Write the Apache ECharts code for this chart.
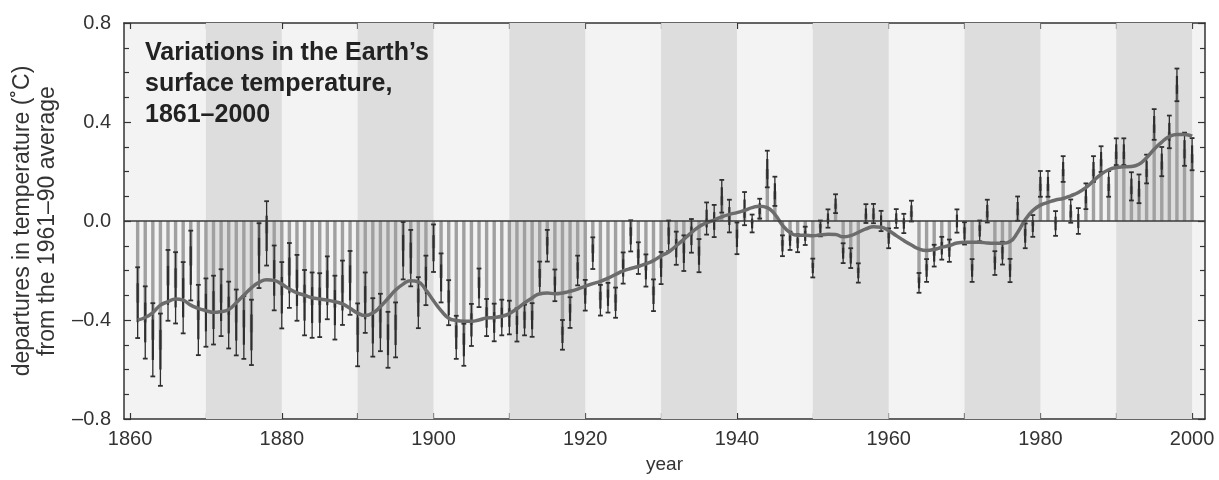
<!DOCTYPE html>
<html>
<head>
<meta charset="utf-8">
<title>Variations in the Earth's surface temperature, 1861–2000</title>
<script src="https://cdn.jsdelivr.net/npm/echarts@6.0.0/dist/echarts.min.js"></script>
<style>
html,body{margin:0;padding:0;background:#fff;}
#chart{width:1219px;height:480px;}
</style>
</head>
<body>
<div id="chart"></div>
<script>
var firstYear = 1861;

// yearly departures (°C) from the 1961-90 average, 1861..2000
var anomaly = [
    -0.33,-0.41,-0.48,-0.52,-0.26,-0.27,-0.31,-0.18,-0.40,-0.37,
    -0.36,-0.33,-0.38,-0.41,-0.43,-0.45,-0.14,-0.05,-0.23,-0.30,
    -0.22,-0.27,-0.33,-0.34,-0.34,-0.27,-0.35,-0.29,-0.25,-0.46,
    -0.33,-0.43,-0.41,-0.48,-0.44,-0.12,-0.15,-0.33,-0.24,-0.11,
    -0.23,-0.33,-0.47,-0.50,-0.42,-0.27,-0.39,-0.41,-0.39,-0.39,
    -0.42,-0.40,-0.40,-0.23,-0.10,-0.26,-0.46,-0.37,-0.20,-0.30,
    -0.13,-0.32,-0.31,-0.33,-0.19,-0.06,-0.15,-0.20,-0.30,-0.19,
    -0.06,-0.11,-0.13,-0.06,-0.14,0.01,0.00,0.10,0.02,-0.07,
    0.05,-0.01,0.05,0.21,0.12,-0.10,-0.08,-0.09,-0.06,-0.19,
    -0.03,0.01,0.07,-0.13,-0.15,-0.21,0.03,0.03,0.00,-0.07,
    0.01,-0.01,0.04,-0.25,-0.20,-0.14,-0.11,-0.12,0.00,-0.05,
    -0.20,-0.04,0.04,-0.17,-0.13,-0.20,0.05,-0.06,-0.02,0.15,
    0.15,-0.01,0.21,0.04,0.00,0.10,0.21,0.25,0.15,0.28,
    0.28,0.14,0.13,0.21,0.39,0.24,0.36,0.55,0.29,0.27
];

// half width of the error bars
var uncertainty = [
    0.143,0.146,0.148,0.146,0.143,0.144,0.144,0.141,0.142,0.138,
    0.139,0.135,0.135,0.133,0.127,0.132,0.131,0.130,0.131,0.134,
    0.131,0.133,0.132,0.132,0.129,0.127,0.129,0.130,0.129,0.127,
    0.122,0.118,0.116,0.113,0.111,0.116,0.114,0.103,0.100,0.096,
    0.099,0.091,0.087,0.085,0.085,0.078,0.075,0.076,0.072,0.068,
    0.067,0.062,0.068,0.066,0.064,0.064,0.060,0.062,0.060,0.062,
    0.064,0.062,0.060,0.061,0.063,0.063,0.064,0.065,0.064,0.065,
    0.062,0.067,0.072,0.068,0.067,0.065,0.065,0.066,0.066,0.064,
    0.067,0.036,0.040,0.074,0.059,0.042,0.037,0.036,0.037,0.038,
    0.032,0.037,0.038,0.040,0.040,0.039,0.038,0.039,0.041,0.040,
    0.038,0.039,0.042,0.040,0.046,0.044,0.046,0.045,0.047,0.045,
    0.046,0.042,0.046,0.048,0.046,0.047,0.049,0.050,0.044,0.052,
    0.052,0.050,0.052,0.047,0.052,0.052,0.052,0.052,0.052,0.054,
    0.054,0.057,0.058,0.058,0.062,0.059,0.066,0.066,0.067,0.065
];

// smoothed curve
var smoothed = [
    -0.400,-0.390,-0.370,-0.340,-0.326,-0.315,-0.320,-0.340,-0.353,-0.362,
    -0.369,-0.366,-0.358,-0.330,-0.300,-0.270,-0.248,-0.237,-0.240,-0.255,
    -0.275,-0.290,-0.300,-0.310,-0.315,-0.320,-0.326,-0.335,-0.353,-0.372,
    -0.382,-0.372,-0.346,-0.313,-0.279,-0.255,-0.241,-0.246,-0.279,-0.322,
    -0.362,-0.393,-0.402,-0.405,-0.405,-0.400,-0.392,-0.390,-0.385,-0.374,
    -0.354,-0.331,-0.311,-0.294,-0.291,-0.294,-0.291,-0.284,-0.275,-0.264,
    -0.253,-0.244,-0.231,-0.216,-0.202,-0.192,-0.184,-0.173,-0.160,-0.141,
    -0.125,-0.100,-0.074,-0.047,-0.023,-0.007,0.004,0.017,0.027,0.034,
    0.043,0.054,0.060,0.054,0.027,-0.017,-0.047,-0.058,-0.058,-0.060,
    -0.056,-0.054,-0.055,-0.064,-0.059,-0.046,-0.032,-0.023,-0.025,-0.039,
    -0.059,-0.079,-0.097,-0.113,-0.119,-0.115,-0.106,-0.099,-0.089,-0.086,
    -0.086,-0.086,-0.089,-0.090,-0.090,-0.083,-0.046,0.005,0.042,0.064,
    0.075,0.085,0.091,0.102,0.115,0.135,0.162,0.189,0.207,0.216,
    0.219,0.220,0.229,0.256,0.290,0.319,0.341,0.350,0.350,0.343
];

var darkDecades = [[1870,1880],[1890,1900],[1910,1920],[1930,1940],[1950,1960],[1970,1980],[1990,2000]];
var yearTicks = [1860,1870,1880,1890,1900,1910,1920,1930,1940,1950,1960,1970,1980,1990,2000];
var yearLabels = [1860,1880,1900,1920,1940,1960,1980,2000];

var font = "'Liberation Sans', Arial, Helvetica, sans-serif";
var ink = '#333';

var barData = anomaly.map(function(v,i){ return [firstYear+i, v, uncertainty[i]]; });
var curveData = smoothed.map(function(v,i){ return [firstYear+i, v]; });
var bands = darkDecades.map(function(d){ return [{xAxis:d[0]},{xAxis:d[1]}]; });

function renderBar(params, api){
    var x = api.value(0), v = api.value(1), e = api.value(2);
    var base = api.coord([x, 0]);
    var end = api.coord([x, v]);
    var hi = api.coord([x, v+e]);
    var lo = api.coord([x, v-e]);
    var midHi = api.coord([x, v+e*0.55]);
    var midLo = api.coord([x, v-e*0.55]);
    var w = 3.4, cap = 2.4;
    return {
        type: 'group',
        children: [
            {type:'rect', shape:{x:base[0]-w/2, y:Math.min(base[1],end[1]), width:w, height:Math.abs(base[1]-end[1])},
             style:{fill:'#a0a0a0'}},
            {type:'line', shape:{x1:hi[0], y1:hi[1], x2:lo[0], y2:lo[1]}, style:{stroke:'#2e2e2e', lineWidth:1.3}},
            {type:'line', shape:{x1:midHi[0], y1:midHi[1], x2:midLo[0], y2:midLo[1]}, style:{stroke:'#2e2e2e', lineWidth:2.2}},
            {type:'line', shape:{x1:hi[0]-cap, y1:hi[1], x2:hi[0]+cap, y2:hi[1]}, style:{stroke:'#2e2e2e', lineWidth:1.8}},
            {type:'line', shape:{x1:lo[0]-cap, y1:lo[1], x2:lo[0]+cap, y2:lo[1]}, style:{stroke:'#2e2e2e', lineWidth:1.8}}
        ]
    };
}

var chart = echarts.init(document.getElementById('chart'));
var option = {
    animation: false,
    backgroundColor: '#fff',
    title: {
        text: 'Variations in the Earth\u2019s\nsurface temperature,\n1861\u20132000',
        left: 145, top: 38, padding: 0,
        textStyle: {fontFamily: font, fontSize: 25, fontWeight: 'bold', lineHeight: 31, color: '#222'}
    },
    grid: {
        left: 124, right: 14, top: 23, bottom: 61,
        outerBoundsMode: 'none', containLabel: false,
        show: true, backgroundColor: '#f3f3f3', borderWidth: 0
    },
    xAxis: [
        {
            type: 'value', position: 'bottom', min: 1859.2, max: 2001.7,
            axisLine: {onZero: false, lineStyle: {color: ink, width: 1.5}},
            axisTick: {inside: true, length: 6, customValues: yearTicks, lineStyle: {color: ink, width: 1.2}},
            axisLabel: {customValues: yearLabels, color: ink, fontSize: 20, fontFamily: font, margin: 10,
                formatter: function(v){ return String(v); }},
            splitLine: {show: false},
            name: 'year', nameLocation: 'middle', nameGap: 36, nameMoveOverlap: false,
            nameTextStyle: {color: ink, fontSize: 19, fontFamily: font}
        },
        {
            type: 'value', position: 'top', min: 1859.2, max: 2001.7,
            axisLine: {onZero: false, lineStyle: {color: ink, width: 1.5}},
            axisTick: {inside: true, length: 6, customValues: yearTicks, lineStyle: {color: ink, width: 1.2}},
            axisLabel: {show: false},
            splitLine: {show: false}
        }
    ],
    yAxis: [
        {
            type: 'value', position: 'left', min: -0.8, max: 0.8, interval: 0.4,
            axisLine: {show: true, onZero: false, lineStyle: {color: ink, width: 1.5}},
            axisTick: {inside: true, length: 7, lineStyle: {color: ink, width: 1.2}},
            minorTick: {show: true, splitNumber: 4, length: 5, lineStyle: {color: ink, width: 1.2}},
            axisLabel: {color: ink, fontSize: 20, fontFamily: font, margin: 13,
                formatter: function(v){ return v.toFixed(1).replace('-', '\u2013'); }},
            splitLine: {show: false},
            name: 'departures in temperature (\u02daC)\nfrom the 1961\u201390 average',
            nameLocation: 'middle', nameRotate: 90, nameGap: 64, nameMoveOverlap: false,
            nameTextStyle: {color: ink, fontSize: 23, lineHeight: 25, fontFamily: font}
        },
        {
            type: 'value', position: 'right', min: -0.8, max: 0.8, interval: 0.4,
            axisLine: {show: true, onZero: false, lineStyle: {color: ink, width: 1.5}},
            axisTick: {inside: true, length: 7, lineStyle: {color: ink, width: 1.2}},
            minorTick: {show: true, splitNumber: 4, length: 5, lineStyle: {color: ink, width: 1.2}},
            axisLabel: {show: false},
            splitLine: {show: false}
        }
    ],
    series: [
        {
            type: 'line', data: [], z: 1, silent: true,
            markArea: {silent: true, itemStyle: {color: '#dddddd'}, data: bands}
        },
        {
            type: 'custom', name: 'annual', z: 2, renderItem: renderBar, data: barData,
            encode: {x: 0, y: 1}, silent: true
        },
        {
            type: 'line', name: 'smoothed', z: 4, data: curveData, smooth: 0.5,
            showSymbol: false, silent: true,
            lineStyle: {color: '#6c6c6c', width: 3.5},
            markLine: {
                silent: true, symbol: 'none', label: {show: false},
                lineStyle: {color: '#3a3a3a', width: 1.5, type: 'solid'},
                data: [{yAxis: 0}]
            }
        }
    ]
};
chart.setOption(option);
</script>
</body>
</html>
